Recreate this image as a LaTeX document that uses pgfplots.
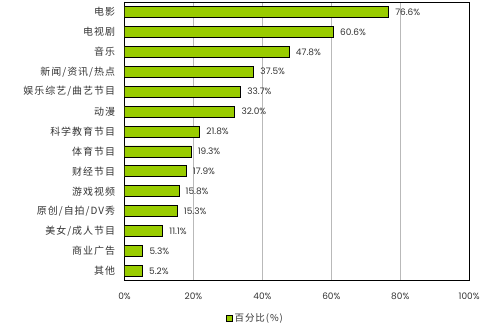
\documentclass[border=0pt]{standalone}
\usepackage{pgfplots}
\pgfplotsset{compat=1.18}
\usepackage{fontspec}
\setmainfont{Poppins}
\newfontfamily\cjk[LetterSpace=10]{Noto Sans CJK SC}
\definecolor{bargreen}{HTML}{99CC00}
\definecolor{txt}{HTML}{333333}
\begin{document}
\begin{tikzpicture}
\path (0,0) rectangle (483pt,329pt);
\begin{axis}[
  at={(125pt,47pt)}, anchor=south west,
  scale only axis, width=346pt, height=280pt,
  xbar, bar width=11pt,
  xmin=0, xmax=100, ymin=-0.5, ymax=13.5, y dir=reverse,
  xtick={0,20,40,60,80,100},
  xticklabel={\pgfmathprintnumber{\tick}\%},
  /pgf/number format/assume math mode=true,
  xticklabel style={font=\fontsize{9}{10}\selectfont, text=txt, yshift=-8pt},
  ytick={0,...,13},
  yticklabels={电影,电视剧,音乐,新闻/资讯/热点,娱乐综艺/曲艺节目,动漫,科学教育节目,体育节目,财经节目,游戏视频,原创/自拍/DV秀,美女/成人节目,商业广告,其他},
  yticklabel style={font=\cjk\fontsize{10}{12}\selectfont, text=txt, xshift=-6pt},
  major tick length=0pt,
  xmajorgrids, grid style={draw=gray!55, line width=0.6pt},
  axis line style={line width=0.9pt},
  axis x line*=bottom, axis y line*=left,
  point meta=x,
  nodes near coords={\pgfmathprintnumber[fixed,precision=1,fixed zerofill,assume math mode=true]{\pgfplotspointmeta}\%},
  nodes near coords style={font=\fontsize{9}{10}\selectfont, text=txt, anchor=west, xshift=3pt},
  legend style={at={(0.38,-0.105)}, anchor=north, draw=none, font=\cjk\fontsize{9.5}{11}\selectfont, text=txt, inner sep=1pt},
  legend image code/.code={\draw[fill=bargreen, draw=black, line width=0.6pt] (0pt,-3pt) rectangle (6pt,3pt);},
]
\addplot[fill=bargreen, draw=black, line width=0.8pt] coordinates {
(76.6,0) (60.6,1) (47.8,2) (37.5,3) (33.7,4) (32.0,5) (21.8,6) (19.3,7) (17.9,8) (15.8,9) (15.3,10) (11.1,11) (5.3,12) (5.2,13)};
\addlegendentry{百分比(\%)}
\end{axis}
\draw[line width=0.9pt] (125pt,329pt-2pt) -- (471pt,329pt-2pt) -- (471pt,47pt);
\end{tikzpicture}
\end{document}
